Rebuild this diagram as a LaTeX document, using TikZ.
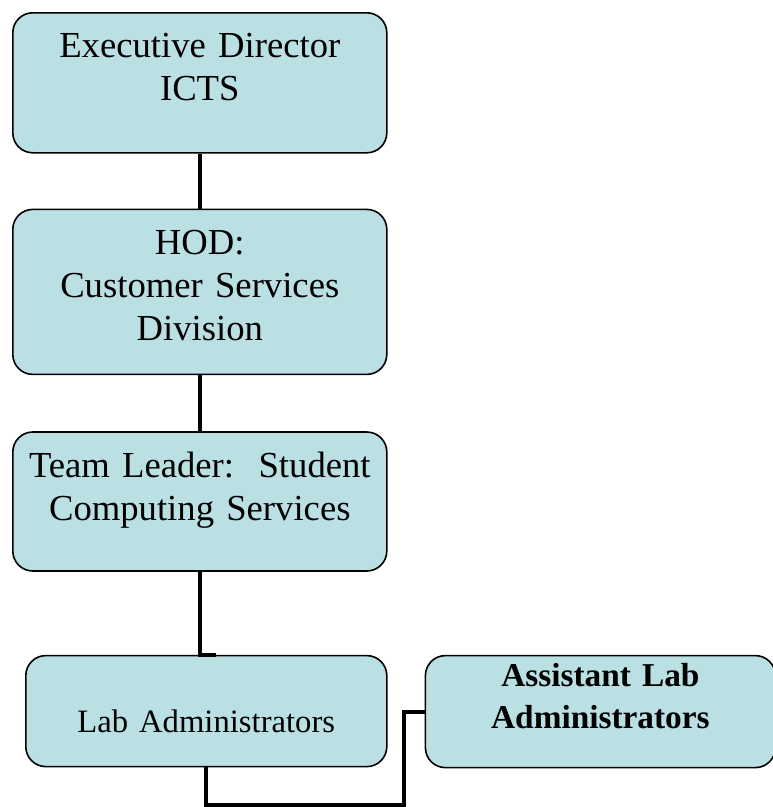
\documentclass[tikz,border=0pt]{standalone}
\usepackage{fontspec}
\setmainfont{Liberation Serif}
\usetikzlibrary{positioning}
\definecolor{boxblue}{RGB}{187,224,227}

\begin{document}
\begin{tikzpicture}[x=0.75pt, y=-0.75pt, node distance=41.25pt,
	every node/.style={inner sep=0pt},
	box/.style={draw, line width=1.2pt, rounded corners=15pt, fill=boxblue,
		align=center, text width=280.5pt, text height=33.75pt,
		font=\fontsize{27.5}{32.25}\selectfont},
	link/.style={line width=3pt}
	]
\useasboundingbox (0,0) rectangle (773,807);
% chain of command
\node[box, anchor=north west, text depth=71.25pt] (exec) at (12,12)
	{Executive Director\\ICTS};
\node[box, text depth=90pt] (hod) [below=of exec]
	{HOD:\\Customer Services\\Division};
\node[box, text depth=70.5pt] (lead) [below=42pt of hod]
	{Team Leader:\ \ Student\\Computing Services};
\node[box, font=\fontsize{24.5}{30}\selectfont,
	text width=270.75pt, text height=57.75pt, text depth=25.5pt]
	(lab) [below=62.25pt of lead.south east, anchor=north east]
	{Lab Administrators};
\node[box, font=\fontsize{25}{31.5}\selectfont\bfseries,
	text width=262.5pt, text height=23.25pt, text depth=60.75pt]
	(asst) [right=27.75pt of lab.north east, anchor=north west]
	{Assistant Lab\\Administrators};
% connectors
\coordinate (bend) at (404,805);
\draw[link] (exec) -- (hod);
\draw[link] (hod) -- (lead);
\draw[link] (lead.south) |- (lab.north) -- ++(10,0);
\draw[link] (lab.south) |- (bend) |- (asst.west);
\end{tikzpicture}
\end{document}
